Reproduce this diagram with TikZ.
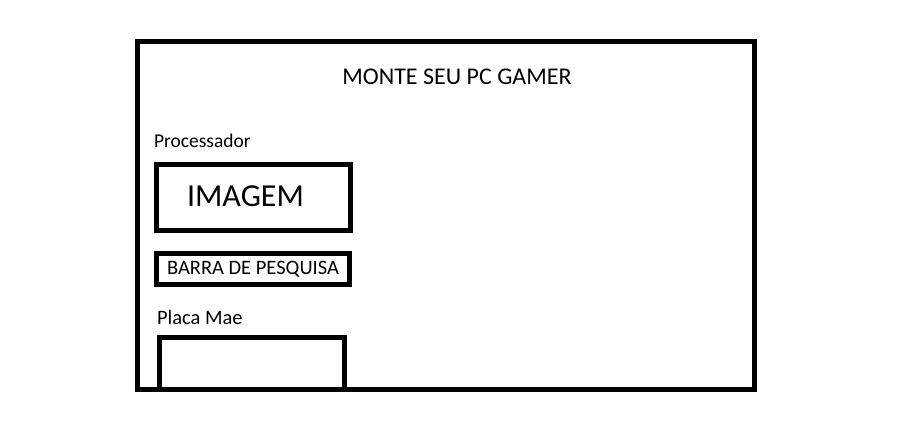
\documentclass[tikz,border=0pt]{standalone}
\usepackage{fontspec}
\setmainfont{Carlito}
\usetikzlibrary{positioning}

\tikzset{
  frame/.style={draw, line width=5pt, inner sep=0, outer sep=0},
  caption/.style={inner sep=0, outer sep=0, anchor=base west, font=\fontsize{19.5}{23}\selectfont}
}

\begin{document}
\begin{tikzpicture}[x=1pt, y=-1pt, every node/.style={inner sep=0, outer sep=0}]
      \useasboundingbox (0,0) rectangle (907,432);
      \node(page)[frame, rectangle, minimum width=617pt, minimum height=348pt] at (446,215.5) {};
      \node(title)[anchor=base, font=\fontsize{24}{28}\selectfont] at (457,84) {MONTE SEU PC GAMER};

      \node(cpu)[caption] at (154,147) {Processador};
      \node(imgbox)[frame, minimum width=194pt, minimum height=66pt] at (253.5,197.5) {};
      \node(img)[font=\fontsize{32}{38}\selectfont] at (245.5,196) {IMAGEM};
      \node(search)[frame, minimum width=193pt, minimum height=31pt, font=\fontsize{20.5}{24}\selectfont] at (253,269) {BARRA DE PESQUISA};

      \node(mobo)[caption, font=\fontsize{20.5}{24}\selectfont] at (157,324) {Placa Mae};
      \coordinate(mobosw) at (159.5,389.5);
      \coordinate(mobose) at (344.5,389.5);
      \draw[line width=5pt] (mobosw) |- (344.5,337.5) -- (mobose);
    \end{tikzpicture}
\end{document}
